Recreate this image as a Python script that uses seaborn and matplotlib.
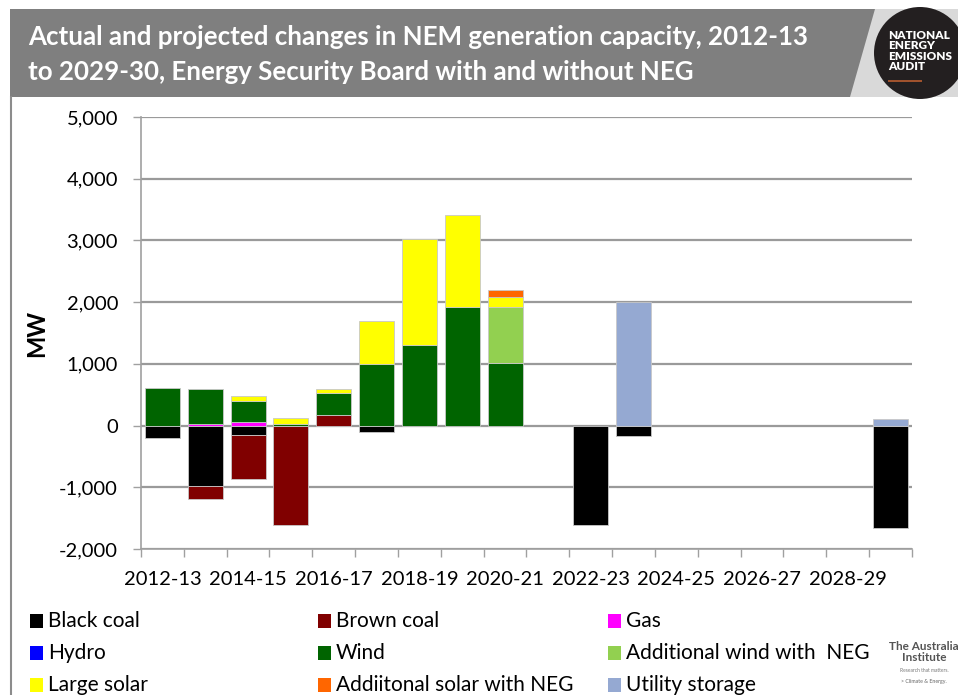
import numpy as np
import seaborn as sns
import matplotlib.pyplot as plt
from matplotlib.patches import Rectangle, Polygon, Circle
from matplotlib.ticker import FuncFormatter

W, H = 958, 695

years = ['2012-13', '2013-14', '2014-15', '2015-16', '2016-17', '2017-18',
         '2018-19', '2019-20', '2020-21', '2021-22', '2022-23', '2023-24',
         '2024-25', '2025-26', '2026-27', '2027-28', '2028-29', '2029-30']

black_coal = [-200, -980, -160, 0, 0, -110, 0, 0, 0, 0, -1615, -170, 0, 0, 0, 0, 0, -1665]
brown_coal = [0, -210, -710, -1610, 170, 0, 0, 0, 0, 0, 0, 0, 0, 0, 0, 0, 0, 0]
gas = [0, 30, 55, 0, 0, 0, 0, 0, 0, 0, 0, 0, 0, 0, 0, 0, 0, 0]
hydro = [0] * 18
wind = [615, 570, 340, 25, 365, 1000, 1300, 1925, 1020, 0, 0, 0, 0, 0, 0, 0, 0, 0]
add_wind_neg = [0, 0, 0, 0, 0, 0, 0, 0, 905, 0, 0, 0, 0, 0, 0, 0, 0, 0]
large_solar = [0, 0, 90, 105, 55, 700, 1725, 1495, 160, 0, 0, 0, 0, 0, 0, 0, 0, 0]
add_solar_neg = [0, 0, 0, 0, 0, 0, 0, 0, 105, 0, 0, 0, 0, 0, 0, 0, 0, 0]
storage = [0, 0, 0, 0, 0, 0, 0, 0, 0, 0, 0, 2000, 0, 0, 0, 0, 0, 110]

series = [
    ('Black coal', black_coal, '#000000'),
    ('Brown coal', brown_coal, '#800000'),
    ('Gas', gas, '#FF00FF'),
    ('Hydro', hydro, '#0000FF'),
    ('Wind', wind, '#006400'),
    ('Additional wind with  NEG', add_wind_neg, '#92D050'),
    ('Large solar', large_solar, '#FFFF00'),
    ('Addiitonal solar with NEG', add_solar_neg, '#FF6600'),
    ('Utility storage', storage, '#95A9D2'),
]

plt.rcParams['font.family'] = ['Lato', 'DejaVu Sans']


def fx(x):
    return x / W


def fy(y):
    return 1 - y / H


fig = plt.figure(figsize=(W / 100, H / 100), dpi=100)
ax = fig.add_axes([fx(141), fy(549), (912 - 141) / W, (549 - 117) / H])

# stacked bars, positives up and negatives down like excel
pos = np.zeros(len(years))
neg = np.zeros(len(years))
for name, vals, col in series:
    v = np.array(vals, dtype=float)
    base = np.where(v >= 0, pos, neg)
    sns.barplot(x=years, y=v, bottom=base, color=col, width=0.82,
                edgecolor='#C8C8C8', linewidth=0.6, saturation=1, ax=ax)
    pos = pos + np.clip(v, 0, None)
    neg = neg + np.clip(v, None, 0)

# empty segments shouldn't leave an outline
for p in ax.patches:
    if p.get_height() == 0:
        p.set_linewidth(0)

ax.set_ylim(-2000, 5000)
ax.set_xlim(-0.5, 17.5)
ax.set_yticks(range(-2000, 5001, 1000))
ax.yaxis.set_major_formatter(FuncFormatter(lambda v, p: f'{int(v):,}'))
ax.set_xticks(range(0, 18, 2), years[::2])
ax.set_xticks(np.arange(-0.5, 18, 1), minor=True)
ax.tick_params(axis='x', which='major', length=0, pad=16, labelsize=14.5)
ax.tick_params(axis='x', which='minor', length=5.5, width=1, color='#A0A0A0')
ax.tick_params(axis='y', length=5.5, width=1, color='#A0A0A0', pad=11, labelsize=14.5)
ax.set_xlabel('')
ax.set_ylabel('MW', fontsize=17, fontweight='bold', labelpad=8)
ax.grid(axis='y', color='#9A9A9A', linewidth=1.6)
ax.set_axisbelow(True)
for s in ['top', 'right']:
    ax.spines[s].set_visible(False)
for s in ['left', 'bottom']:
    ax.spines[s].set_color('#A0A0A0')
    ax.spines[s].set_linewidth(1.2)

# header band
fig.add_artist(Rectangle((fx(10), fy(97)), 1 - fx(10), (97 - 9) / H,
                         transform=fig.transFigure, color='#7F7F7F', lw=0))
fig.add_artist(Polygon([(fx(875), fy(9)), (1, fy(9)), (1, fy(97)), (fx(850), fy(97))],
                       transform=fig.transFigure, color='#D9D9D9', lw=0))
logo = Circle((920, H - 53), 46, transform=None, color='#231F20', lw=0)
fig.add_artist(logo)
fig.text(fx(888), fy(51), 'NATIONAL\nENERGY\nEMISSIONS\nAUDIT', color='white',
         fontsize=8.5, fontweight='heavy', va='center', ha='left', linespacing=0.95)
fig.add_artist(Rectangle((fx(888), fy(82)), 34 / W, 2 / H, transform=fig.transFigure,
                         color='#A0522D', lw=0))
fig.add_artist(plt.Line2D([fx(11), fx(11)], [fy(97), 0], transform=fig.transFigure,
                          color='#8C8C8C', lw=1.5))

fig.text(fx(28), fy(37), 'Actual and projected changes in NEM generation capacity, 2012-13',
         color='white', fontsize=18.6, fontweight='bold', va='center', ha='left')
fig.text(fx(28), fy(72), 'to 2029-30, Energy Security Board with and without NEG',
         color='white', fontsize=18.6, fontweight='bold', va='center', ha='left')

# legend, laid out row by row
col_x = [30, 318, 608]
row_y = [621, 653, 685]
for i, (name, vals, col) in enumerate(series):
    cx = col_x[i % 3]
    ry = row_y[i // 3]
    fig.add_artist(Rectangle((fx(cx), fy(ry + 7)), 13 / W, 14 / H,
                             transform=fig.transFigure, color=col, lw=0))
    fig.text(fx(cx + 18), fy(ry), name, fontsize=15, va='center', ha='left')

fig.text(fx(924), fy(652), 'The Australia\nInstitute', fontsize=8.5, color='#555555',
         ha='center', va='center', linespacing=0.9, fontweight='bold')
fig.text(fx(924), fy(670), 'Research that matters.', fontsize=3.5, color='#777777',
         ha='center', va='center')
fig.text(fx(924), fy(681), '> Climate & Energy.', fontsize=3.8, color='#666666',
         ha='center', va='center')

fig.savefig('out.png', dpi=100)
